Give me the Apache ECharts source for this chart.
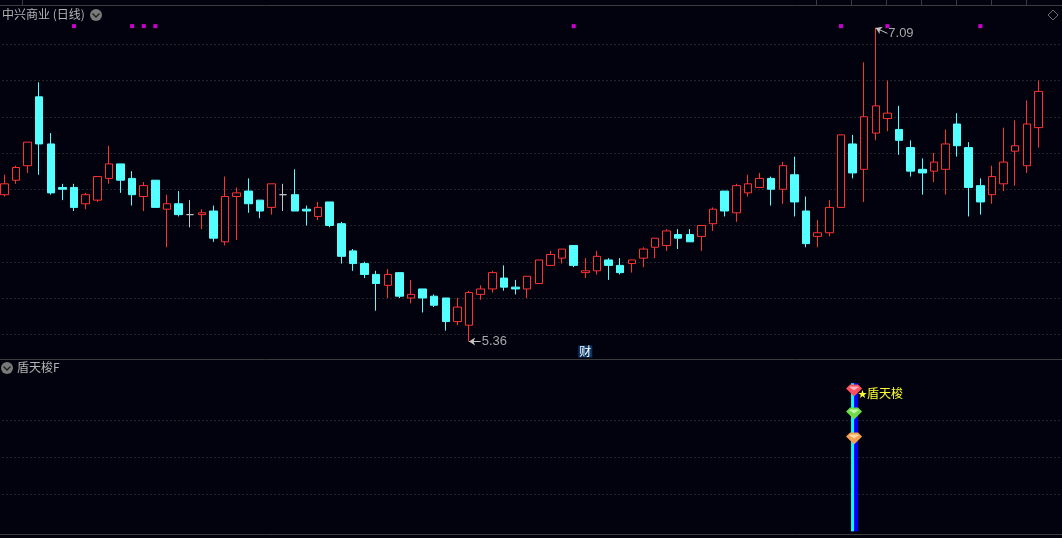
<!DOCTYPE html>
<html>
<head>
<meta charset="utf-8">
<title>中兴商业 (日线)</title>
<script src="https://cdn.jsdelivr.net/npm/echarts@6/dist/echarts.min.js"></script>
<style>
  html, body { margin: 0; padding: 0; background: #02020e; }
  #main { width: 1062px; height: 538px; }
</style>
</head>
<body>
<div id="main"></div>
<script>
// 日K数据，从图上读出来的
var opens = [6.17,6.25,6.33,6.71,6.45,6.21,6.21,6.12,6.14,6.26,
  6.34,6.26,6.16,6.25,6.09,6.12,6.06,6.06,6.08,5.91,
  6.16,6.19,6.14,6.10,6.17,6.17,6.09,6.05,6.13,6.01,
  5.86,5.79,5.73,5.67,5.74,5.60,5.65,5.61,5.60,5.47,
  5.45,5.62,5.65,5.71,5.66,5.65,5.68,5.78,5.82,5.89,
  5.74,5.75,5.81,5.78,5.79,5.82,5.88,5.89,5.95,5.95,
  5.94,6.01,6.19,6.07,6.18,6.21,6.26,6.20,6.28,6.08,
  5.94,5.96,6.10,6.45,6.31,6.51,6.59,6.53,6.43,6.31,
  6.30,6.31,6.56,6.43,6.22,6.17,6.23,6.41,6.33,6.54];
var closes = [6.23,6.32,6.46,6.45,6.18,6.20,6.10,6.17,6.27,6.34,
  6.25,6.17,6.22,6.10,6.12,6.06,6.06,6.07,5.93,6.16,
  6.18,6.12,6.08,6.23,6.17,6.08,6.08,6.10,6.00,5.83,
  5.79,5.73,5.68,5.73,5.61,5.62,5.60,5.56,5.47,5.55,
  5.63,5.65,5.74,5.66,5.65,5.72,5.81,5.84,5.87,5.78,
  5.75,5.83,5.78,5.74,5.81,5.87,5.93,5.97,5.93,5.91,
  6.00,6.09,6.08,6.22,6.23,6.26,6.20,6.33,6.13,5.90,
  5.96,6.10,6.50,6.29,6.60,6.66,6.62,6.47,6.30,6.29,
  6.35,6.45,6.44,6.21,6.13,6.27,6.35,6.44,6.56,6.74];
var lows = [6.16,6.23,6.29,6.28,6.17,6.14,6.08,6.09,6.13,6.23,
  6.18,6.11,6.08,6.10,5.88,6.05,5.99,5.98,5.91,5.89,
  5.92,6.07,6.04,6.06,6.08,6.08,6.00,6.03,5.99,5.79,
  5.75,5.71,5.53,5.60,5.60,5.57,5.52,5.55,5.42,5.45,
  5.36,5.59,5.63,5.64,5.62,5.60,5.68,5.78,5.79,5.77,
  5.71,5.73,5.70,5.73,5.74,5.77,5.82,5.86,5.87,5.91,
  5.86,5.97,6.05,6.02,6.16,6.21,6.11,6.12,6.05,5.88,
  5.88,5.94,6.10,6.26,6.13,6.47,6.52,6.39,6.27,6.17,
  6.24,6.17,6.38,6.05,6.06,6.12,6.19,6.22,6.29,6.43];
var highs = [6.28,6.33,6.46,6.79,6.51,6.23,6.23,6.18,6.27,6.44,
  6.34,6.30,6.24,6.25,6.17,6.19,6.14,6.09,6.11,6.27,
  6.21,6.26,6.14,6.23,6.23,6.31,6.11,6.13,6.13,6.02,
  5.87,5.80,5.75,5.76,5.74,5.70,5.65,5.62,5.60,5.60,
  5.64,5.67,5.75,5.78,5.70,5.72,5.81,5.86,5.87,5.89,
  5.82,5.86,5.82,5.82,5.81,5.88,5.93,5.98,5.98,5.98,
  6.00,6.10,6.19,6.23,6.28,6.29,6.27,6.35,6.38,6.16,
  6.03,6.14,6.50,6.50,6.90,7.09,6.80,6.66,6.47,6.37,
  6.40,6.53,6.62,6.46,6.26,6.33,6.54,6.58,6.69,6.80];

// 顶部的紫色小点
var dotIndex = [6, 11, 12, 13, 49, 72, 76, 84];
var dotPrice = 7.10;

// 副图 盾天梭F
var signalIndex = 73;
var signalValue = 4;
var gemValues = [3.82, 3.2, 2.52];
var gemColors = ['#ff4f5e', '#6fdc4a', '#f5a04e'];
var gemLights = ['#ffb0b8', '#c4f5a8', '#ffd8a8'];

var BG = '#02020e';
var RED = '#ff3232';
var CYAN = '#54ffff';
var GRID = '#454545';
var LINE = '#3c3c3c';
var CJK = '"Noto Sans CJK SC", "Noto Sans", sans-serif';

var slots = [];
for (var i = 0; i < 92; i++) slots.push(String(i));

var candles = opens.map(function (o, i) {
  return [o, closes[i], lows[i], highs[i]];
});
var dots = dotIndex.map(function (d) { return [d, dotPrice]; });
var gemBody = 'path://M4 0L12 0L16 4L8 12L0 4Z';
var gemLight = 'path://M0 2L2 0L14 0L16 2L14 3L8 9L2 3Z';

var myChart = echarts.init(document.getElementById('main'), null, { renderer: 'canvas' });

function hiddenX(idx) {
  return {
    type: 'category', gridIndex: idx, data: slots, boundaryGap: true,
    axisLine: { show: false }, axisTick: { show: false }, axisLabel: { show: false },
    splitLine: { show: false }
  };
}
function hiddenY(idx, min, max, step) {
  return {
    type: 'value', gridIndex: idx, min: min, max: max, interval: step, scale: true,
    axisLine: { show: false }, axisTick: { show: false }, axisLabel: { show: false },
    splitLine: {
      show: true, showMinLine: false, showMaxLine: false,
      lineStyle: { color: GRID, width: 1, type: [1, 3] }
    }
  };
}
function chevron(cx, cy) {
  return [
    { type: 'circle', shape: { cx: cx, cy: cy, r: 6 }, style: { fill: '#7a7a7a' }, z: 5 },
    { type: 'polyline', shape: { points: [[cx - 3.5, cy - 1.5], [cx, cy + 2], [cx + 3.5, cy - 1.5]] },
      style: { stroke: '#1c1c1c', fill: null, lineWidth: 1.3 }, z: 6 }
  ];
}
function hline(y) {
  return { type: 'line', shape: { x1: 0, y1: y, x2: 1062, y2: y }, style: { stroke: LINE, lineWidth: 1 }, z: 4 };
}
function tick(x) {
  return { type: 'line', shape: { x1: x, y1: 0, x2: x, y2: 5 }, style: { stroke: LINE, lineWidth: 1 }, z: 4 };
}

var topTicks = [22.5, 816.5, 851.5, 886.5, 921.5, 956.5, 991.5, 1026.5];

var option = {
  backgroundColor: BG,
  animation: false,
  grid: [
    { left: -1.5, top: 8, width: 1069, height: 362.5, outerBoundsMode: 'none' },
    { left: -1.5, top: 383.3, width: 1069, height: 148, outerBoundsMode: 'none' }
  ],
  xAxis: [hiddenX(0), hiddenX(1)],
  yAxis: [hiddenY(0, 5.2, 7.2, 0.2), hiddenY(1, 0, 4, 1)],
  graphic: [
    { type: 'text', left: 2, top: 8, style: { text: '中兴商业 (日线)', fill: '#b4b4b4', font: '12px ' + CJK }, z: 5 },
    { type: 'text', left: 17, top: 361, style: { text: '盾天梭F', fill: '#b4b4b4', font: '12px ' + CJK }, z: 5 },
    hline(5.5), hline(359.5), hline(534.5),
    { type: 'polygon', shape: { points: [[1053, 10], [1058, 15], [1053, 20], [1048, 15]] },
      style: { stroke: '#6a6a6a', fill: null, lineWidth: 1 }, z: 4 }
  ].concat(chevron(96, 15), chevron(7, 368), topTicks.map(tick)),
  series: [
    {
      type: 'candlestick', name: '中兴商业', xAxisIndex: 0, yAxisIndex: 0,
      data: candles, barWidth: 8,
      itemStyle: {
        color: BG, color0: CYAN,
        borderColor: RED, borderColor0: CYAN, borderColorDoji: '#c4c4c4',
        borderWidth: 1
      },
      silent: true
    },
    {
      type: 'scatter', name: '标记', xAxisIndex: 0, yAxisIndex: 0,
      data: dots, symbol: 'rect', symbolSize: 4,
      itemStyle: { color: '#ff00ff' }, silent: true,
      markLine: {
        silent: true, animation: false,
        lineStyle: { color: '#c4c4c4', width: 1, type: 'solid' },
        label: { show: true, position: 'end', color: '#a8a8a8', fontSize: 13, fontFamily: '"Liberation Sans", sans-serif', distance: 1, formatter: '{b}' },
        data: [
          [{ name: '5.36', coord: [40, 5.36], symbol: 'arrow', symbolSize: 6 },
           { coord: [41, 5.36], symbol: 'none' }],
          [{ name: '7.09', coord: [75, 7.09], symbol: 'arrow', symbolSize: 6 },
           { coord: [76, 7.06], symbol: 'none' }]
        ]
      },
      markPoint: {
        silent: true, animation: false, symbol: 'rect', symbolSize: 1,
        itemStyle: { color: 'rgba(0,0,0,0)' },
        label: {
          show: true, position: 'inside', color: '#ffffff', fontSize: 12, fontFamily: CJK,
          backgroundColor: '#0b3564', padding: [0, 1], formatter: '{b}'
        },
        data: [{ name: '财', coord: [50, 5.305] }]
      }
    },
    {
      type: 'bar', name: '盾天梭', xAxisIndex: 1, yAxisIndex: 1,
      data: [[signalIndex, signalValue]], barWidth: 7, barGap: '-100%',
      itemStyle: { color: '#0000ff' }, silent: true
    },
    {
      type: 'bar', name: '盾天梭2', xAxisIndex: 1, yAxisIndex: 1,
      data: [[signalIndex, signalValue]], barWidth: 3, barGap: '-100%',
      itemStyle: { color: '#00ffff' }, silent: true
    },
    {
      type: 'scatter', name: '宝石', xAxisIndex: 1, yAxisIndex: 1, z: 5,
      symbol: gemBody, symbolSize: [16, 12], symbolOffset: [1.5, 0.5], silent: true,
      data: gemValues.map(function (v, i) {
        return {
          value: [signalIndex, v],
          itemStyle: { color: gemColors[i], opacity: 1 },
          label: i === 0 ? {
            show: true, position: 'right', distance: -4, offset: [0, 3],
            formatter: '{s|★}{t|盾天梭}',
            rich: {
              s: { fontSize: 9, color: '#ffff33', fontFamily: CJK },
              t: { fontSize: 12, color: '#ffff33', fontFamily: CJK }
            }
          } : { show: false }
        };
      })
    },
    {
      type: 'scatter', name: '宝石高光', xAxisIndex: 1, yAxisIndex: 1, z: 6,
      symbol: gemLight, symbolSize: [10, 4], symbolOffset: [1.5, -1.5], silent: true,
      data: gemValues.map(function (v, i) {
        return { value: [signalIndex, v], itemStyle: { color: gemLights[i], opacity: 1 } };
      })
    }
  ]
};

myChart.setOption(option);
</script>
</body>
</html>
